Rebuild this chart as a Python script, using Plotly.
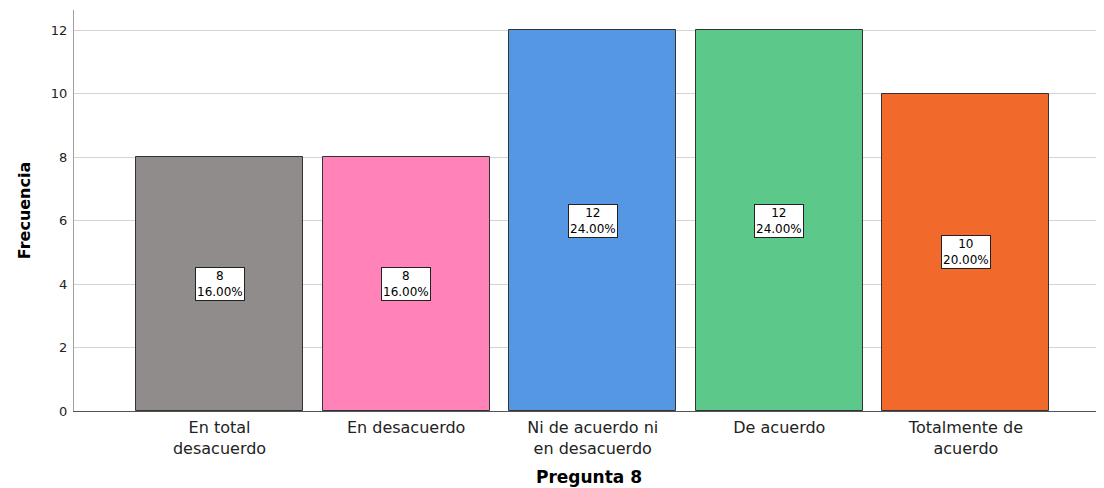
import plotly.graph_objects as go

categories = ["En total<br>desacuerdo", "En desacuerdo", "Ni de acuerdo ni<br>en desacuerdo", "De acuerdo", "Totalmente de<br>acuerdo"]
counts = [8, 8, 12, 12, 10]
percents = ["16.00%", "16.00%", "24.00%", "24.00%", "20.00%"]
colors = ["#8F8C8B", "#FF82B8", "#5597E3", "#5CC98B", "#F26A2B"]

font = "DejaVu Sans, Liberation Sans, Arial, sans-serif"

fig = go.Figure(go.Bar(
    x=categories, y=counts, width=0.895,
    marker=dict(color=colors, line=dict(color="#333333", width=1)),
    hoverinfo="skip",
))

for c, v, p in zip(categories, counts, percents):
    fig.add_annotation(x=c, y=v / 2, text=f"{v}<br>{p}", showarrow=False,
                       font=dict(family=font, size=12, color="black"),
                       bgcolor="white", bordercolor="#222222", borderwidth=1, borderpad=1,
                       align="center")

# page body has an 8px margin, so the figure is sized to fit the 1104x488 window
fig.update_layout(
    width=1096, height=480,
    margin=dict(l=66, r=0, t=2, b=77),
    plot_bgcolor="white", paper_bgcolor="white",
    showlegend=False,
    bargap=0,
    font=dict(family=font, color="black"),
    xaxis=dict(
        type="category", range=[-0.78, 4.74], automargin=False,
        showgrid=False, showline=True, linecolor="#555555", linewidth=1,
        ticks="", tickfont=dict(size=16, color="#222222"), ticklabelstandoff=2,
        title=dict(text="<b>Pregunta 8</b>", font=dict(size=17), standoff=14),
    ),
    yaxis=dict(
        range=[0, 12.63], tickvals=[0, 2, 4, 6, 8, 10, 12], automargin=False,
        showgrid=True, gridcolor="#D4D4D4", gridwidth=1,
        showline=True, linecolor="#A0A0A0", linewidth=1,
        ticks="", ticklabelstandoff=3,
        tickfont=dict(size=13, color="#222222"),
        zeroline=False,
        title=dict(text="<b>Frecuencia</b>", font=dict(size=16), standoff=16),
    ),
)

fig.write_html("out.html")
